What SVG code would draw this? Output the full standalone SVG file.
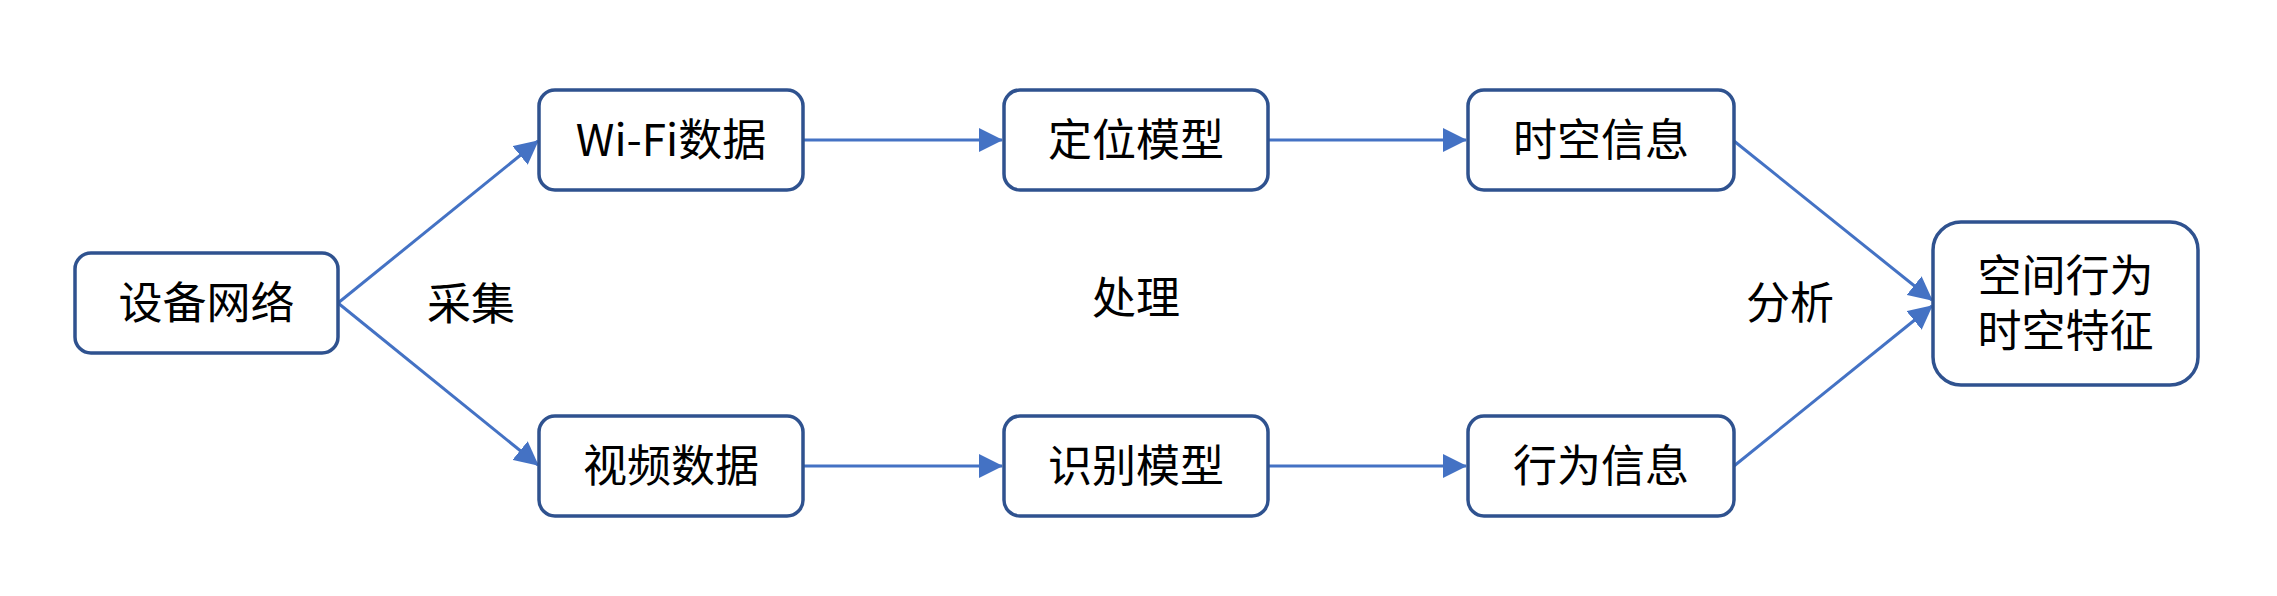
<svg xmlns="http://www.w3.org/2000/svg" width="2277" height="596" viewBox="0 0 2277 596">
<style>
.box{fill:#fff;stroke:#2F528F;stroke-width:3.5}
.t{font-family:"Noto Sans CJK SC","Microsoft YaHei",sans-serif;font-size:44px;fill:#000;text-anchor:middle}
.c{fill:none;stroke:#4472C4;stroke-width:3}
</style>
<defs>
<marker id="ah" markerUnits="userSpaceOnUse" markerWidth="24" markerHeight="24" viewBox="0 0 24 24" refX="23" refY="12" orient="auto">
<path d="M0,0 L24,12 L0,24 Z" fill="#4472C4"/>
</marker>
</defs>
<rect width="2277" height="596" fill="#fff"/>
<g id="connectors">
<line class="c" x1="338" y1="303" x2="538" y2="141" marker-end="url(#ah)"/>
<line class="c" x1="338" y1="303" x2="538" y2="465" marker-end="url(#ah)"/>
<line class="c" x1="803" y1="140" x2="1002" y2="140" marker-end="url(#ah)"/>
<line class="c" x1="803" y1="466" x2="1002" y2="466" marker-end="url(#ah)"/>
<line class="c" x1="1268" y1="140" x2="1466" y2="140" marker-end="url(#ah)"/>
<line class="c" x1="1268" y1="466" x2="1466" y2="466" marker-end="url(#ah)"/>
<line class="c" x1="1734" y1="141" x2="1932" y2="300" marker-end="url(#ah)"/>
<line class="c" x1="1734" y1="466" x2="1932" y2="306" marker-end="url(#ah)"/>
</g>
<g id="n-device"><rect class="box" x="75" y="253" width="263" height="100" rx="16"/><text class="t" x="206.5" y="319">设备网络</text></g>
<g id="n-wifi"><rect class="box" x="539" y="90" width="264" height="100" rx="16"/><text class="t" x="671" y="156">Wi-Fi数据</text></g>
<g id="n-video"><rect class="box" x="539" y="416" width="264" height="100" rx="16"/><text class="t" x="671" y="482">视频数据</text></g>
<g id="n-locmodel"><rect class="box" x="1004" y="90" width="264" height="100" rx="16"/><text class="t" x="1136" y="156">定位模型</text></g>
<g id="n-recmodel"><rect class="box" x="1004" y="416" width="264" height="100" rx="16"/><text class="t" x="1136" y="482">识别模型</text></g>
<g id="n-stinfo"><rect class="box" x="1468" y="90" width="266" height="100" rx="16"/><text class="t" x="1601" y="156">时空信息</text></g>
<g id="n-bhinfo"><rect class="box" x="1468" y="416" width="266" height="100" rx="16"/><text class="t" x="1601" y="482">行为信息</text></g>
<g id="n-feature"><rect class="box" x="1933" y="222" width="265" height="163" rx="28"/><text class="t"><tspan x="2065.5" y="292">空间行为</tspan><tspan x="2065.5" y="347">时空特征</tspan></text></g>
<g id="labels">
<text class="t" x="471" y="320">采集</text>
<text class="t" x="1136" y="314">处理</text>
<text class="t" x="1790" y="319">分析</text>
</g>
</svg>
